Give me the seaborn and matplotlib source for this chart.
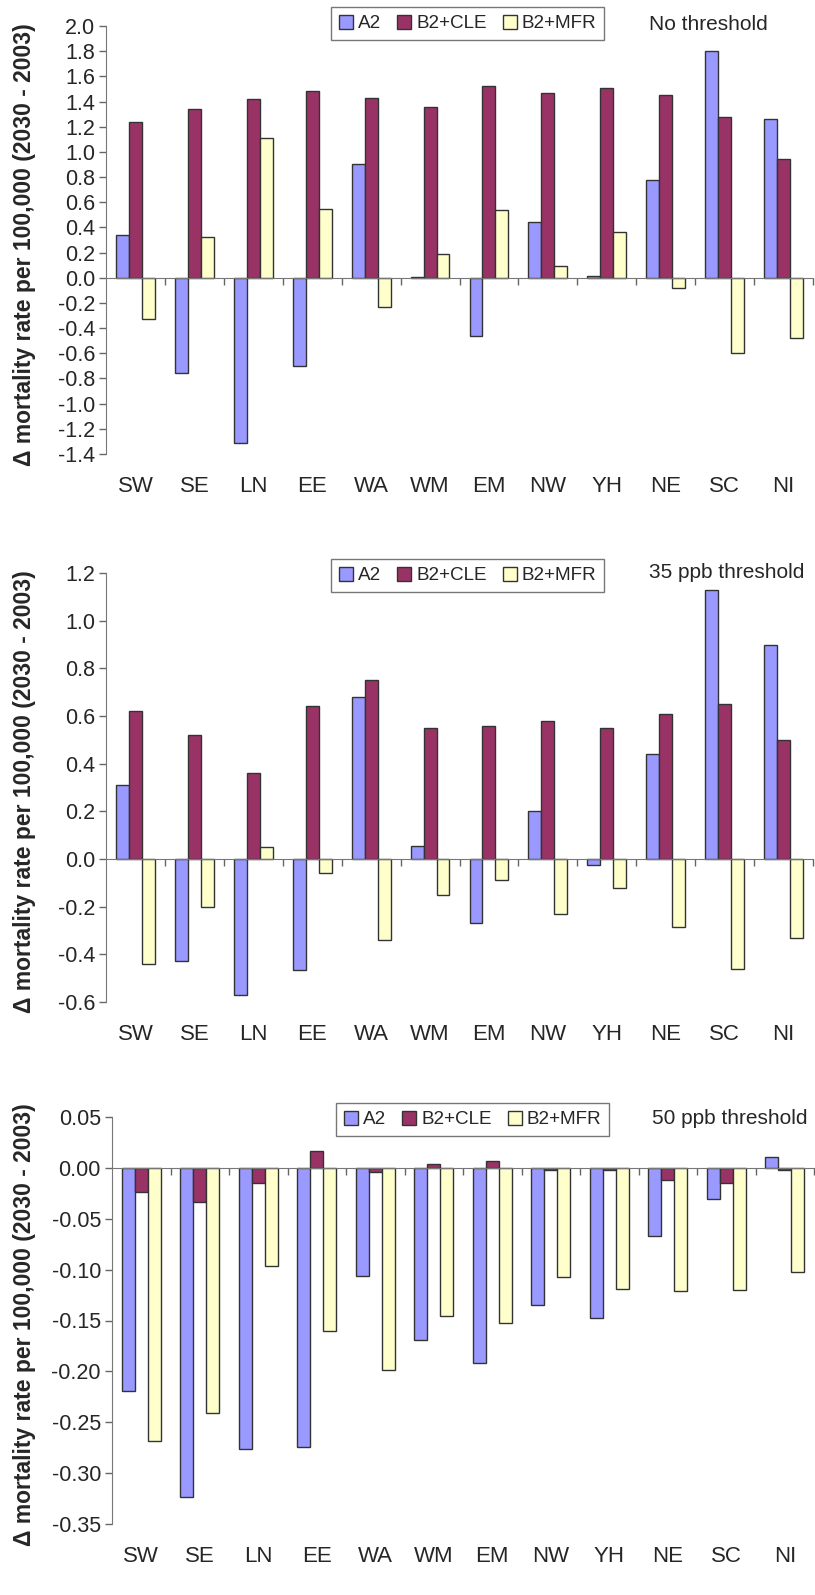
import numpy as np
import pandas as pd
import matplotlib
matplotlib.use("Agg")
import matplotlib.pyplot as plt
import seaborn as sns

regions = ["SW", "SE", "LN", "EE", "WA", "WM", "EM", "NW", "YH", "NE", "SC", "NI"]
scenarios = ["A2", "B2+CLE", "B2+MFR"]

# Panel 1: No threshold
p1_a2 = [0.34, -0.76, -1.31, -0.70, 0.90, 0.01, -0.46, 0.44, 0.015, 0.78, 1.80, 1.26]
p1_cle = [1.24, 1.34, 1.42, 1.48, 1.43, 1.36, 1.52, 1.47, 1.51, 1.45, 1.28, 0.94]
p1_mfr = [-0.33, 0.32, 1.11, 0.55, -0.23, 0.19, 0.54, 0.09, 0.36, -0.08, -0.60, -0.48]

# Panel 2: 35 ppb threshold
p2_a2 = [0.31, -0.43, -0.57, -0.465, 0.68, 0.055, -0.27, 0.20, -0.025, 0.44, 1.13, 0.90]
p2_cle = [0.62, 0.52, 0.36, 0.64, 0.75, 0.55, 0.56, 0.58, 0.55, 0.61, 0.65, 0.50]
p2_mfr = [-0.44, -0.20, 0.05, -0.06, -0.34, -0.15, -0.09, -0.23, -0.12, -0.285, -0.46, -0.33]

# Panel 3: 50 ppb threshold
p3_a2 = [-0.219, -0.323, -0.276, -0.274, -0.106, -0.169, -0.192, -0.135, -0.148, -0.067, -0.031, 0.011]
p3_cle = [-0.024, -0.034, -0.015, 0.017, -0.004, 0.004, 0.007, -0.002, -0.002, -0.012, -0.015, -0.002]
p3_mfr = [-0.268, -0.241, -0.096, -0.160, -0.199, -0.146, -0.152, -0.107, -0.119, -0.121, -0.120, -0.102]

titles = ["No threshold", "35 ppb threshold", "50 ppb threshold"]
ylabel = "Δ mortality rate per 100,000 (2030 - 2003)"

sns.set_style("white")
plt.rcParams["font.family"] = ["Liberation Sans", "DejaVu Sans"]

colors = ["#9999FF", "#993366", "#FFFFCC"]
W, H = 815, 1595
fig = plt.figure(figsize=(W / 100, H / 100), dpi=100)

panels = [
    dict(data=(p1_a2, p1_cle, p1_mfr), ylim=(-1.4, 2.0), step=0.2, fmt="{:.1f}",
         box=(106, 26, 813, 454), leg=(331, 7), title=(649, 25)),
    dict(data=(p2_a2, p2_cle, p2_mfr), ylim=(-0.6, 1.2), step=0.2, fmt="{:.1f}",
         box=(106, 573, 813, 1002), leg=(331, 559), title=(649, 573)),
    dict(data=(p3_a2, p3_cle, p3_mfr), ylim=(-0.35, 0.05), step=0.05, fmt="{:.2f}",
         box=(112, 1117, 814, 1524), leg=(336, 1103), title=(652, 1118)),
]

for i, p in enumerate(panels):
    x0, y0, x1, y1 = p["box"]
    ax = fig.add_axes([x0 / W, 1 - y1 / H, (x1 - x0) / W, (y1 - y0) / H])
    df = pd.DataFrame({
        "region": regions * 3,
        "scenario": np.repeat(scenarios, len(regions)),
        "value": list(p["data"][0]) + list(p["data"][1]) + list(p["data"][2]),
    })
    sns.barplot(data=df, x="region", y="value", hue="scenario", hue_order=scenarios,
                palette=colors, saturation=1, width=0.66, edgecolor="#333333",
                linewidth=1.0, errorbar=None, ax=ax)
    ax.set_xlim(-0.5, 11.5)
    lo, hi = p["ylim"]
    ax.set_ylim(lo, hi)
    yt = np.round(np.arange(lo, hi + p["step"] / 2, p["step"]), 3)
    ax.set_yticks(yt)
    ax.set_yticklabels([p["fmt"].format(v + 0.0) for v in yt], fontsize=15.5)
    ax.tick_params(axis="y", direction="out", length=5, width=1, color="#666666", pad=3, left=True)
    for s in ["top", "right"]:
        ax.spines[s].set_visible(False)
    ax.spines["left"].set_color("#777777")
    ax.spines["bottom"].set_color("#777777")
    ax.spines["bottom"].set_position(("data", 0))
    ax.set_xticks(np.arange(0.5, 12, 1))
    ax.set_xticklabels([])
    ax.tick_params(axis="x", direction="out", length=5, width=1, color="#666666", bottom=True)
    ax.set_xlabel("")
    ax.set_ylabel(ylabel, fontsize=16.5, fontweight="bold")
    ax.yaxis.set_label_coords((36 - x0) / (x1 - x0), 0.49)

    sec = ax.secondary_xaxis("bottom")
    sec.set_xticks(range(len(regions)))
    sec.set_xticklabels(regions, fontsize=16)
    sec.tick_params(length=0, pad=16)
    sec.spines["bottom"].set_visible(False)

    handles, labels = ax.get_legend_handles_labels()
    lx, ly = p["leg"]
    leg = ax.legend(handles, labels, loc="upper left", bbox_to_anchor=(lx / W, 1 - ly / H),
                    bbox_transform=fig.transFigure, ncol=3, fontsize=13.6,
                    frameon=True, fancybox=False, edgecolor="#555555",
                    handlelength=0.75, handleheight=0.75, handletextpad=0.25,
                    columnspacing=0.85, borderpad=0.42, borderaxespad=0)
    leg.get_frame().set_linewidth(1.0)
    tx, ty = p["title"]
    fig.text(tx / W, 1 - ty / H, titles[i], fontsize=15, va="center", ha="left")

fig.savefig("out.png", dpi=100)
